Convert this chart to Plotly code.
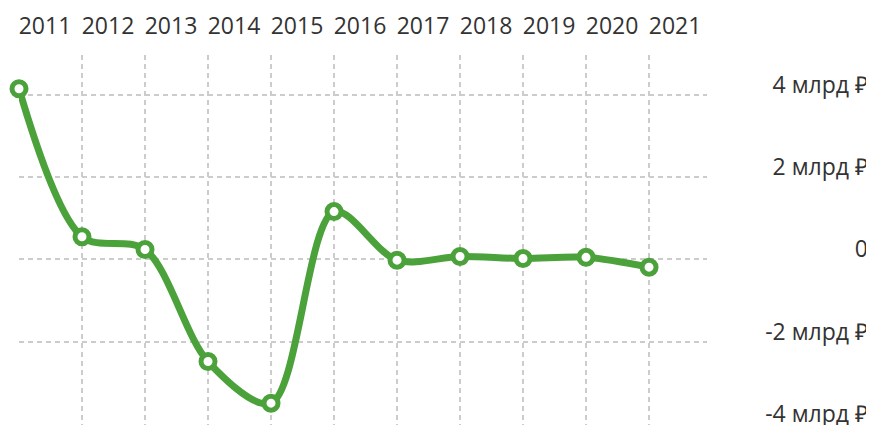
import plotly.graph_objects as go

years = [2011, 2012, 2013, 2014, 2015, 2016, 2017, 2018, 2019, 2020, 2021]
values = [4.14, 0.55, 0.24, -2.48, -3.49, 1.16, -0.02, 0.07, 0.02, 0.05, -0.19]
y_ticks = [-4, -2, 0, 2, 4]
y_labels = ["-4 млрд ₽", "-2 млрд ₽", "0", "2 млрд ₽", "4 млрд ₽"]

green = "#4ba23b"
grid = "#cccccc"

fig = go.Figure()
fig.add_trace(go.Scatter(
    x=years, y=values,
    mode="lines+markers",
    line=dict(color=green, width=7, shape="spline", smoothing=0.9),
    marker=dict(symbol="circle", size=14, color="white",
                line=dict(color=green, width=5)),
    cliponaxis=False,
    hoverinfo="skip",
))

# page body has an 8px margin, so the figure is 8px smaller and offset
fig.update_layout(
    width=866, height=417,
    margin=dict(l=11, r=6, t=47, b=0),
    paper_bgcolor="white", plot_bgcolor="white",
    showlegend=False,
    font=dict(family="Open Sans", size=23, color="#333333"),
    xaxis=dict(
        domain=[0, (707 - 19) / (866 - 17)],
        range=[2011, 2021.92],
        side="top",
        tickvals=years,
        ticktext=[str(y) for y in years],
        showgrid=True, gridcolor=grid, griddash="5px,4px", gridwidth=1.5,
        zeroline=False, showline=False, ticks="",
        ticklabelshift=26, ticklabelstandoff=15,
        automargin=False,
    ),
    yaxis=dict(
        range=[-4.02, 4.96],
        anchor="free", position=1.0, side="left",
        tickvals=y_ticks, ticktext=y_labels,
        showgrid=True, gridcolor=grid, griddash="5px,4px", gridwidth=1.5,
        zeroline=False, showline=False, ticks="",
        ticklabelshift=-10, ticklabelstandoff=0,
        ticklabeloverflow="allow",
        automargin=False,
    ),
)

fig.write_html("out.html")
